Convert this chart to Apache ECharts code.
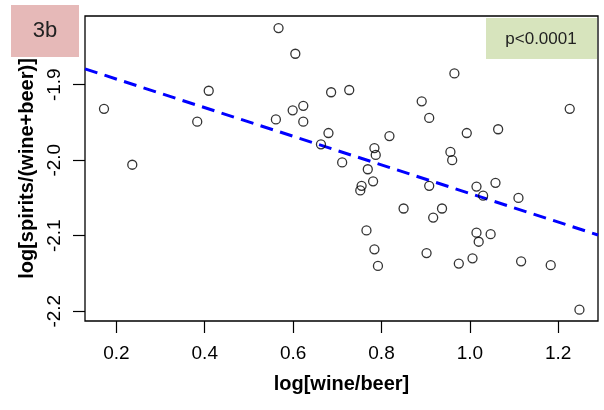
<!DOCTYPE html>
<html>
<head>
<meta charset="utf-8">
<script src="https://cdn.jsdelivr.net/npm/echarts@6/dist/echarts.min.js"></script>
<style>
  html, body { margin: 0; padding: 0; background: #fff; }
  #main { width: 604px; height: 410px; }
</style>
</head>
<body>
<div id="main"></div>
<script>
"use strict";

// log[wine/beer] vs log[spirits/(wine+beer)]
var wineBeer = [0.172, 0.236, 0.383, 0.409, 0.561, 0.567, 0.599, 0.605, 0.623, 0.623,
    0.663, 0.680, 0.686, 0.711, 0.727, 0.752, 0.755, 0.766, 0.769, 0.781,
    0.784, 0.787, 0.784, 0.792, 0.818, 0.850, 0.891, 0.902, 0.908, 0.908,
    0.917, 0.937, 0.956, 0.960, 0.965, 0.975, 0.993, 1.006, 1.015, 1.015,
    1.020, 1.030, 1.047, 1.058, 1.064, 1.110, 1.116, 1.183, 1.226, 1.248];
var spirits = [-1.932, -2.006, -1.949, -1.908, -1.946, -1.825, -1.934, -1.859, -1.928, -1.949,
    -1.979, -1.964, -1.910, -2.003, -1.907, -2.040, -2.034, -2.093, -2.012, -2.028,
    -1.984, -1.993, -2.118, -2.140, -1.968, -2.064, -1.922, -2.123, -1.944, -2.034,
    -2.076, -2.064, -1.989, -2.000, -1.885, -2.137, -1.964, -2.130, -2.035, -2.096,
    -2.108, -2.047, -2.098, -2.030, -1.959, -2.050, -2.134, -2.139, -1.932, -2.198];

// fitted line: intercept, slope
var fit = [-1.8546, -0.1895];

var xTicks = [0.2, 0.4, 0.6, 0.8, 1.0, 1.2];
var yTicks = [-2.2, -2.1, -2.0, -1.9];
var xRange = [0.129, 1.290];
var yRange = [-2.213, -1.809];

var points = wineBeer.map(function (x, i) { return [x, spirits[i]]; });
var fitLine = xRange.map(function (x) { return [x, fit[0] + fit[1] * x]; });

var chart = echarts.init(document.getElementById('main'));

var font = 'Liberation Sans, Arial, sans-serif';

chart.setOption({
    animation: false,
    grid: {
        left: 85,
        right: 6,
        top: 16,
        bottom: 89,
        show: true,
        borderColor: '#000',
        borderWidth: 1.3,
        backgroundColor: 'transparent'
    },
    xAxis: {
        type: 'value',
        min: xRange[0],
        max: xRange[1],
        name: 'log[wine/beer]',
        nameLocation: 'middle',
        nameGap: 53,
        nameTextStyle: { fontFamily: font, fontSize: 20, fontWeight: 'bold', color: '#000' },
        axisLine: { show: false },
        splitLine: { show: false },
        axisTick: {
            customValues: xTicks,
            length: 12,
            lineStyle: { color: '#000', width: 1.2 }
        },
        axisLabel: {
            customValues: xTicks,
            margin: 23,
            fontFamily: font,
            fontSize: 19,
            color: '#000',
            formatter: function (v) { return v.toFixed(1); }
        }
    },
    yAxis: {
        type: 'value',
        min: yRange[0],
        max: yRange[1],
        name: 'log[spirits/(wine+beer)]',
        nameLocation: 'middle',
        nameGap: 48,
        nameTextStyle: { fontFamily: font, fontSize: 20, fontWeight: 'bold', color: '#000' },
        axisLine: { show: false },
        splitLine: { show: false },
        axisTick: {
            customValues: yTicks,
            length: 12,
            lineStyle: { color: '#000', width: 1.2 }
        },
        axisLabel: {
            customValues: yTicks,
            margin: 21,
            rotate: 90,
            fontFamily: font,
            fontSize: 19,
            color: '#000',
            formatter: function (v) { return v.toFixed(1); }
        }
    },
    graphic: [
        {
            type: 'rect',
            shape: { x: 11, y: 5, width: 68, height: 52 },
            style: { fill: '#e6b9b8' }
        },
        {
            type: 'text',
            x: 45,
            y: 31,
            style: {
                text: '3b', fontFamily: font, fontSize: 22, fill: '#222',
                align: 'center', verticalAlign: 'middle'
            }
        },
        {
            type: 'rect',
            shape: { x: 486, y: 18, width: 111, height: 41 },
            style: { fill: '#d7e4bd' }
        },
        {
            type: 'text',
            x: 541,
            y: 39,
            style: {
                text: 'p<0.0001', fontFamily: font, fontSize: 17, fill: '#222',
                align: 'center', verticalAlign: 'middle'
            }
        }
    ],
    series: [
        {
            type: 'scatter',
            data: points,
            symbol: 'circle',
            symbolSize: 9,
            itemStyle: { color: 'rgba(0,0,0,0)', borderColor: '#000', borderWidth: 1.3 },
            z: 3
        },
        {
            type: 'line',
            data: fitLine,
            symbol: 'none',
            lineStyle: { color: '#0000ff', width: 3, type: [13, 7.5] },
            z: 2
        }
    ]
});
</script>
</body>
</html>
